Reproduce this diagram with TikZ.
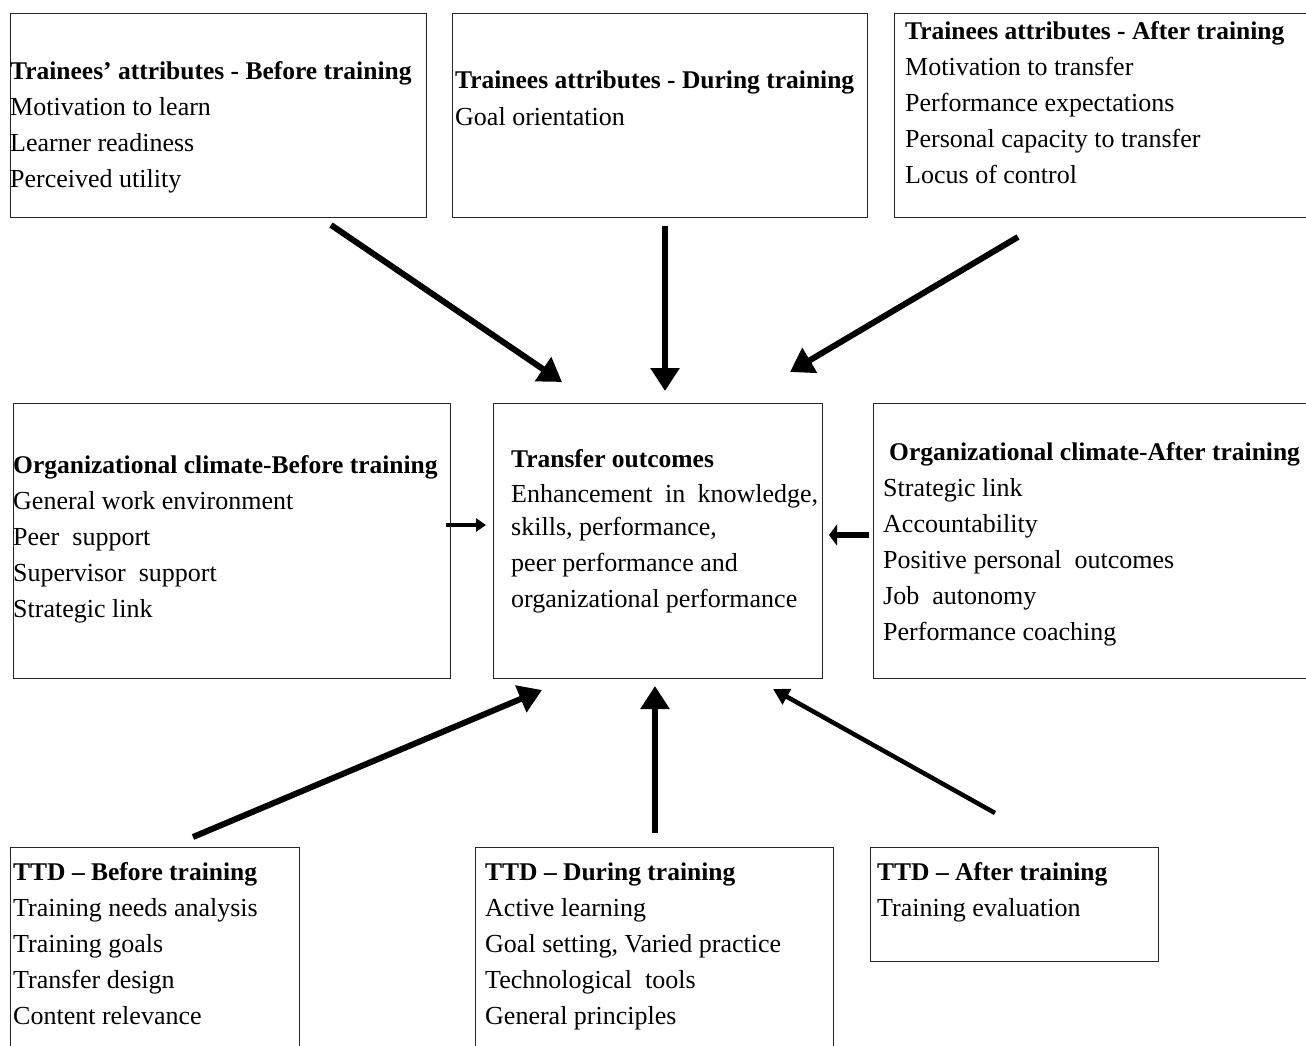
\documentclass[tikz,border=0pt]{standalone}
\usepackage{fontspec}
\setmainfont{Liberation Serif}
\usetikzlibrary{arrows.meta}
\tikzset{
  box/.style={draw=black!85, line width=1.2pt, inner sep=0pt, anchor=north west},
  txt/.style={inner sep=0pt, anchor=base west, font=\fontsize{26}{36}\selectfont},
  thick arrow/.style={line width=6pt, -{Triangle[length=23pt,width=28pt]}},
  thin arrow/.style={line width=4.5pt, -{Triangle[length=16pt,width=17pt]}},
  small arrow/.style={line width=3.3pt, -{Triangle[length=10pt,width=13pt]}},
  stub arrow/.style={line width=6pt, -{Triangle[length=8pt,width=21pt]}},
}
\newcommand{\Lh}[1]{\hbox{#1}}
\newcommand{\Hd}[1]{\hbox{\fontsize{25.5}{36}\selectfont\bfseries #1}}
\begin{document}
\begin{tikzpicture}[x=1pt,y=-1pt]
\useasboundingbox (0,0) rectangle (1306,1046);
\clip (0,0) rectangle (1306,1046);
% boxes
\node[box, minimum width=416pt, minimum height=204pt] (tl) at (10,13) {};
\node[box, minimum width=415pt, minimum height=204pt] (tm) at (452,13) {};
\node[box, minimum width=420pt, minimum height=204pt] (tr) at (894,13) {};
\node[box, minimum width=437pt, minimum height=275pt] (ml) at (13,403) {};
\node[box, minimum width=329pt, minimum height=275pt] (mc) at (493,403) {};
\node[box, minimum width=440pt, minimum height=275pt] (mr) at (873,403) {};
\node[box, minimum width=289pt, minimum height=210pt] (bl) at (10,847) {};
\node[box, minimum width=358pt, minimum height=210pt] (bm) at (475,847) {};
\node[box, minimum width=288pt, minimum height=114pt] (br) at (870,847) {};
% texts
\node[txt] (tlt) at (10,80) {\vtop{\Hd{Trainees’ attributes - Before training}\Lh{Motivation to learn}\Lh{Learner readiness}\Lh{Perceived utility}}};
\node[txt] (tmt) at (455,89) {\vtop{\Hd{Trainees attributes - During training}\Lh{Goal orientation}}};
\node[txt] (trt) at (905,40) {\vtop{\Hd{Trainees attributes - After training}\Lh{Motivation to transfer}\Lh{Performance expectations}\Lh{Personal capacity to transfer}\Lh{Locus of control}}};
\node[txt] (mlt) at (13,473) {\vtop{\Hd{Organizational climate-Before training}\Lh{General work environment}\Lh{Peer\ \ support}\Lh{Supervisor\ \ support}\Lh{Strategic link}}};
\node[txt] (mct) at (511,467) {\vtop{\Hd{Transfer outcomes}\vskip-1pt\hbox to 307pt{Enhancement\hfill in\hfill knowledge,}\vskip-3pt\Lh{skills, performance,}\Lh{peer performance and}\Lh{organizational performance}}};
\node[txt] (mrtt) at (889,460) {\Hd{Organizational climate-After training}};
\node[txt] (mrt) at (883,496) {\vtop{\Lh{Strategic link}\Lh{Accountability}\Lh{Positive personal\ \ outcomes}\Lh{Job\ \ autonomy}\Lh{Performance coaching}}};
\node[txt] (blt) at (13,880) {\vtop{\Hd{TTD – Before training}\Lh{Training\ needs\ analysis}\Lh{Training goals}\Lh{Transfer design}\Lh{Content relevance}}};
\node[txt] (bmt) at (485,880) {\vtop{\Hd{TTD – During training}\Lh{Active learning}\Lh{Goal setting, Varied practice}\Lh{Technological\ \ tools}\Lh{General principles}}};
\node[txt] (brt) at (877,880) {\vtop{\Hd{TTD – After training}\Lh{Training evaluation}}};
% arrow end points
\coordinate (a1s) at (331,225); \coordinate (a1e) at (562,382);
\coordinate (a2s) at (665,226); \coordinate (a2e) at (665,391);
\coordinate (a3s) at (1018,237); \coordinate (a3e) at (790,372);
\coordinate (a4s) at (446,525); \coordinate (a4e) at (486,525);
\coordinate (a5s) at (869,535); \coordinate (a5e) at (829,535);
\coordinate (a6s) at (193,837); \coordinate (a6e) at (542,690);
\coordinate (a7s) at (655,833); \coordinate (a7e) at (655,686);
\coordinate (a8s) at (995,813); \coordinate (a8e) at (773,689);
\draw[thick arrow] (a1s) -- (a1e);
\draw[thick arrow] (a2s) -- (a2e);
\draw[thick arrow] (a3s) -- (a3e);
\draw[small arrow] (a4s) -- (a4e);
\draw[stub arrow] (a5s) -- (a5e);
\draw[thick arrow] (a6s) -- (a6e);
\draw[thick arrow] (a7s) -- (a7e);
\draw[thin arrow] (a8s) -- (a8e);
\end{tikzpicture}
\end{document}
